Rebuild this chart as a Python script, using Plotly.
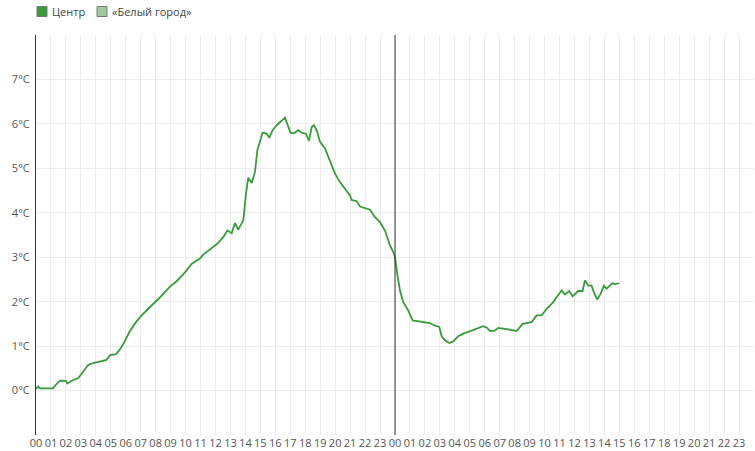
import pandas as pd
import plotly.graph_objects as go

# hours since the start of day 1, temperature in °C
hours = [
    0.0, 0.15, 0.27, 1.14, 1.3, 1.6, 2.0, 2.1, 2.4, 2.83, 3.16, 3.5, 3.83, 4.28,
    4.72, 4.95, 5.35, 5.6, 5.84, 6.28, 6.6, 7.0, 7.3, 7.62, 8.18, 8.6, 8.96, 9.4,
    9.96, 10.4, 10.96, 11.18, 11.63, 12.08, 12.52, 12.79, 13.08, 13.3, 13.52,
    13.86, 14.04, 14.19, 14.42, 14.64, 14.8, 14.97, 15.15, 15.42, 15.6, 15.82,
    16.09, 16.42, 16.64, 17.02, 17.31, 17.53, 17.76, 18.05, 18.25, 18.43, 18.58,
    18.8, 18.98, 19.32, 19.65, 19.99, 20.32, 20.65, 20.99, 21.1, 21.44, 21.66,
    21.99, 22.33, 22.66, 22.99, 23.33, 23.66, 23.93, 24.0, 24.15, 24.33, 24.55,
    24.89, 25.18, 25.67, 26.34, 26.67, 26.96, 27.12, 27.34, 27.63, 27.9, 28.23,
    28.56, 29.12, 29.57, 29.9, 30.17, 30.35, 30.68, 30.9, 31.35, 31.68, 32.13,
    32.53, 33.13, 33.47, 33.8, 34.14, 34.58, 34.8, 35.14, 35.36, 35.65, 35.87,
    36.25, 36.54, 36.7, 36.92, 37.14, 37.3, 37.52, 37.75, 37.97, 38.15, 38.53,
    38.7, 38.99,
]
temps_center = [
    0.04, 0.09, 0.05, 0.05, 0.12, 0.225, 0.22, 0.16, 0.22, 0.28, 0.43, 0.58, 0.62,
    0.65, 0.69, 0.80, 0.82, 0.92, 1.05, 1.34, 1.50, 1.67, 1.78, 1.88, 2.06, 2.20,
    2.34, 2.46, 2.66, 2.85, 2.97, 3.06, 3.17, 3.29, 3.45, 3.60, 3.54, 3.77, 3.62,
    3.83, 4.43, 4.79, 4.67, 4.92, 5.41, 5.63, 5.80, 5.78, 5.69, 5.86, 5.97, 6.07,
    6.14, 5.80, 5.80, 5.86, 5.80, 5.78, 5.62, 5.93, 5.97, 5.82, 5.60, 5.45, 5.17,
    4.88, 4.69, 4.54, 4.39, 4.29, 4.26, 4.14, 4.11, 4.07, 3.90, 3.79, 3.60, 3.27,
    3.08, 3.00, 2.63, 2.25, 1.99, 1.80, 1.58, 1.55, 1.52, 1.46, 1.43, 1.22, 1.13,
    1.07, 1.11, 1.22, 1.28, 1.35, 1.41, 1.45, 1.41, 1.34, 1.35, 1.41, 1.39, 1.37,
    1.34, 1.50, 1.54, 1.69, 1.69, 1.84, 1.99, 2.10, 2.25, 2.16, 2.24, 2.12, 2.24,
    2.24, 2.48, 2.36, 2.36, 2.21, 2.05, 2.18, 2.36, 2.29, 2.42, 2.39, 2.42,
]

series_names = ["Центр", "«Белый город»"]
series_colors = ["#3a9b3a", "#a3c8a0"]
y_ticks = [0, 1, 2, 3, 4, 5, 6, 7]
y_labels = [f"{v}°C" for v in y_ticks]

start = pd.Timestamp("2023-11-13 00:00")
times = start + pd.to_timedelta(hours, unit="h")
midnight = start + pd.Timedelta(days=1)
end = start + pd.Timedelta(days=2)

W, H = 755, 451
M = dict(l=36, r=1, t=35, b=16)
GRID = "#ececec"
FONT = "Open Sans, Noto Sans, sans-serif"


def px_x(p):
    return (p - M["l"]) / (W - M["l"] - M["r"])


def px_y(p):
    return (H - M["b"] - p) / (H - M["t"] - M["b"])


fig = go.Figure()

fig.add_trace(go.Scatter(
    x=times,
    y=temps_center,
    mode="lines",
    line=dict(color=series_colors[0], width=1.8),
    showlegend=False,
))

fig.add_vline(x=midnight, line_color="#333", line_width=1)

# hand-built legend (squares + labels), as in the original widget
legend_x = [37, 97]
for name, color, lx in zip(series_names, series_colors, legend_x):
    fig.add_shape(
        type="rect", xref="paper", yref="paper",
        x0=px_x(lx), x1=px_x(lx + 10), y0=px_y(16.5), y1=px_y(6.5),
        fillcolor=color, line=dict(color="#7a7a7a", width=1),
    )
    fig.add_annotation(
        text=name, xref="paper", yref="paper",
        x=px_x(lx + 13), y=px_y(11.5), xanchor="left", yanchor="middle",
        showarrow=False, font=dict(size=11, color="#444"),
    )

fig.update_layout(
    width=W,
    height=H,
    margin=dict(**M, autoexpand=False),
    plot_bgcolor="white",
    paper_bgcolor="white",
    font=dict(family=FONT, size=11, color="#555"),
    showlegend=False,
    xaxis=dict(
        type="date",
        range=[start, end],
        dtick=3600000,
        tick0=start,
        tickformat="%H",
        showgrid=True,
        gridcolor=GRID,
        gridwidth=1,
        zeroline=False,
        showline=False,
        ticks="",
        automargin=False,
        tickfont=dict(size=11, color="#555"),
    ),
    yaxis=dict(
        range=[-1, 8],
        tickvals=y_ticks,
        ticktext=y_labels,
        showgrid=True,
        gridcolor=GRID,
        zeroline=False,
        showline=True,
        linecolor="#333",
        linewidth=1,
        ticks="",
        ticklabelstandoff=3,
        automargin=False,
        tickfont=dict(size=11, color="#555"),
    ),
)

# the page body has a default 8px margin; drop it so the chart fills the window
fig.write_html(
    "out.html",
    config={"displayModeBar": False},
    post_script="document.body.style.margin='0';",
)
